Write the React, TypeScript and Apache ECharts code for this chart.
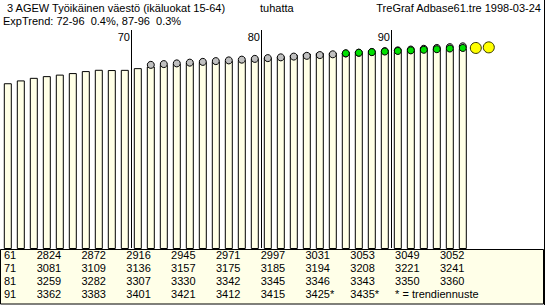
import React, { useEffect, useRef } from 'react';
import * as echarts from 'echarts';

const years = ['61','62','63','64','65','66','67','68','69','70','71','72','73','74','75','76','77','78','79','80','81','82','83','84','85','86','87','88','89','90','91','92','93','94','95','96','97','98'];
const actual = [2824,2872,2916,2945,2971,2997,3031,3053,3049,3052,3081,3109,3136,3157,3175,3185,3194,3208,3221,3241,3259,3282,3307,3330,3342,3345,3346,3343,3350,3360,3362,3383,3401,3421,3412,3415];
const forecastYears = ['97','98'];
const forecast = [3425, 3435];
const trendLongYears = ['72','73','74','75','76','77','78','79','80','81','82','83','84','85','86','87','88','89','90','91','92','93','94','95','96'];
const trendLong = [3137,3150,3162,3175,3188,3201,3213,3226,3239,3252,3265,3278,3291,3304,3317,3331,3344,3357,3371,3384,3398,3411,3425,3439,3453];
const trendShortYears = ['87','88','89','90','91','92','93','94','95','96'];
const trendShort = [3334,3344,3354,3364,3374,3384,3394,3404,3415,3425];
const decadeMarks = ['70','80','90'];
const tableRowLabels = ['61','71','81','91'];
const titleLeft = ' 3 AGEW Työikäinen väestö (ikäluokat 15-64)';
const titleMid = 'tuhatta';
const titleRight = 'TreGraf Adbase61.tre 1998-03-24';
const subtitle = 'ExpTrend: 72-96  0.4%, 87-96  0.3%';
const footnote = '* = trendiennuste';

const FONT = "'Liberation Sans', Arial, sans-serif";

export default function App() {
  const ref = useRef<HTMLDivElement>(null);
  useEffect(() => {
    if (!ref.current) return;
    const chart = echarts.init(ref.current, undefined, { renderer: 'svg' });
    const gridTop = 30;
    const gridBottomY = 249;
    chart.setOption({
      animation: false,
      backgroundColor: '#ffffff',
      grid: { left: 1.3, top: gridTop, width: 494, height: gridBottomY - gridTop },
      xAxis: {
        type: 'category',
        data: years,
        boundaryGap: true,
        axisLine: { show: false },
        axisTick: { show: false },
        axisLabel: { show: false },
        splitLine: { show: false },
      },
      yAxis: {
        type: 'value',
        min: 0,
        max: 3731,
        show: false,
        splitLine: { show: false },
      },
      series: [
        {
          type: 'bar',
          data: actual,
          barWidth: 8,
          itemStyle: { color: '#FFFFE6', borderColor: '#000000', borderWidth: 1 },
          z: 2,
        },
        {
          type: 'scatter',
          data: trendLong.map((v, i) => [trendLongYears[i], v]),
          symbol: 'circle',
          symbolSize: 7,
          itemStyle: { color: '#C0C0C0', borderColor: '#000000', borderWidth: 1, opacity: 1 },
          z: 3,
        },
        {
          type: 'scatter',
          data: trendShort.map((v, i) => [trendShortYears[i], v]),
          symbol: 'circle',
          symbolSize: 7,
          itemStyle: { color: '#00E000', borderColor: '#000000', borderWidth: 1, opacity: 1 },
          z: 4,
        },
        {
          type: 'scatter',
          data: forecast.map((v, i) => [forecastYears[i], v]),
          symbol: 'circle',
          symbolSize: 11,
          itemStyle: { color: '#FFFF00', borderColor: '#303000', borderWidth: 1, opacity: 1 },
          z: 5,
        },
      ],
    });

    const elements: any[] = [];
    const txt = (x: number, y: number, text: string, align: string = 'left') => ({
      type: 'text',
      x, y,
      z: 20,
      style: { text, fill: '#000', font: `11px ${FONT}`, align, verticalAlign: 'middle' },
    });
    elements.push(txt(4, 8, titleLeft));
    elements.push(txt(260, 8, titleMid));
    elements.push(txt(541, 8, titleRight, 'right'));
    elements.push(txt(3, 21, subtitle));

    decadeMarks.forEach((d) => {
      const idx = years.indexOf(d);
      const a = chart.convertToPixel({ xAxisIndex: 0 }, years[idx]) as number;
      const b = chart.convertToPixel({ xAxisIndex: 0 }, years[idx + 1]) as number;
      const x = Math.round((a + b) / 2) + 0.5;
      elements.push({
        type: 'line', z: 10,
        shape: { x1: x, y1: gridTop, x2: x, y2: gridBottomY - 1 },
        style: { stroke: '#000000', lineWidth: 1 },
      });
      elements.push(txt(x - 1.5, 37, d, 'right'));
    });

    // table
    elements.push({
      type: 'rect', z: 15,
      shape: { x: 0.5, y: 249.5, width: 543, height: 54.5 },
      style: { fill: '#FFFFE8', stroke: '#000000', lineWidth: 1 },
    });
    elements.push({
      type: 'line', z: 16,
      shape: { x1: 544.5, y1: 0, x2: 544.5, y2: 305 },
      style: { stroke: '#000', lineWidth: 1 },
    });
    const allValues: string[] = actual.map((v) => String(v)).concat(forecast.map((v) => v + '*'));
    tableRowLabels.forEach((lab, r) => {
      const y = 255 + r * 13;
      elements.push(txt(4, y, lab));
      for (let c = 0; c < 10; c++) {
        const k = r * 10 + c;
        if (k >= allValues.length) break;
        elements.push(txt(36.7 + c * 44.8, y, allValues[k]));
      }
    });
    elements.push(txt(36.7 + 8 * 44.8, 255 + 3 * 13, footnote));

    chart.setOption({ graphic: { elements } });
    return () => chart.dispose();
  }, []);
  return <div ref={ref} style={{ position: 'absolute', left: 0, top: 0, width: 545, height: 305 }} />;
}
